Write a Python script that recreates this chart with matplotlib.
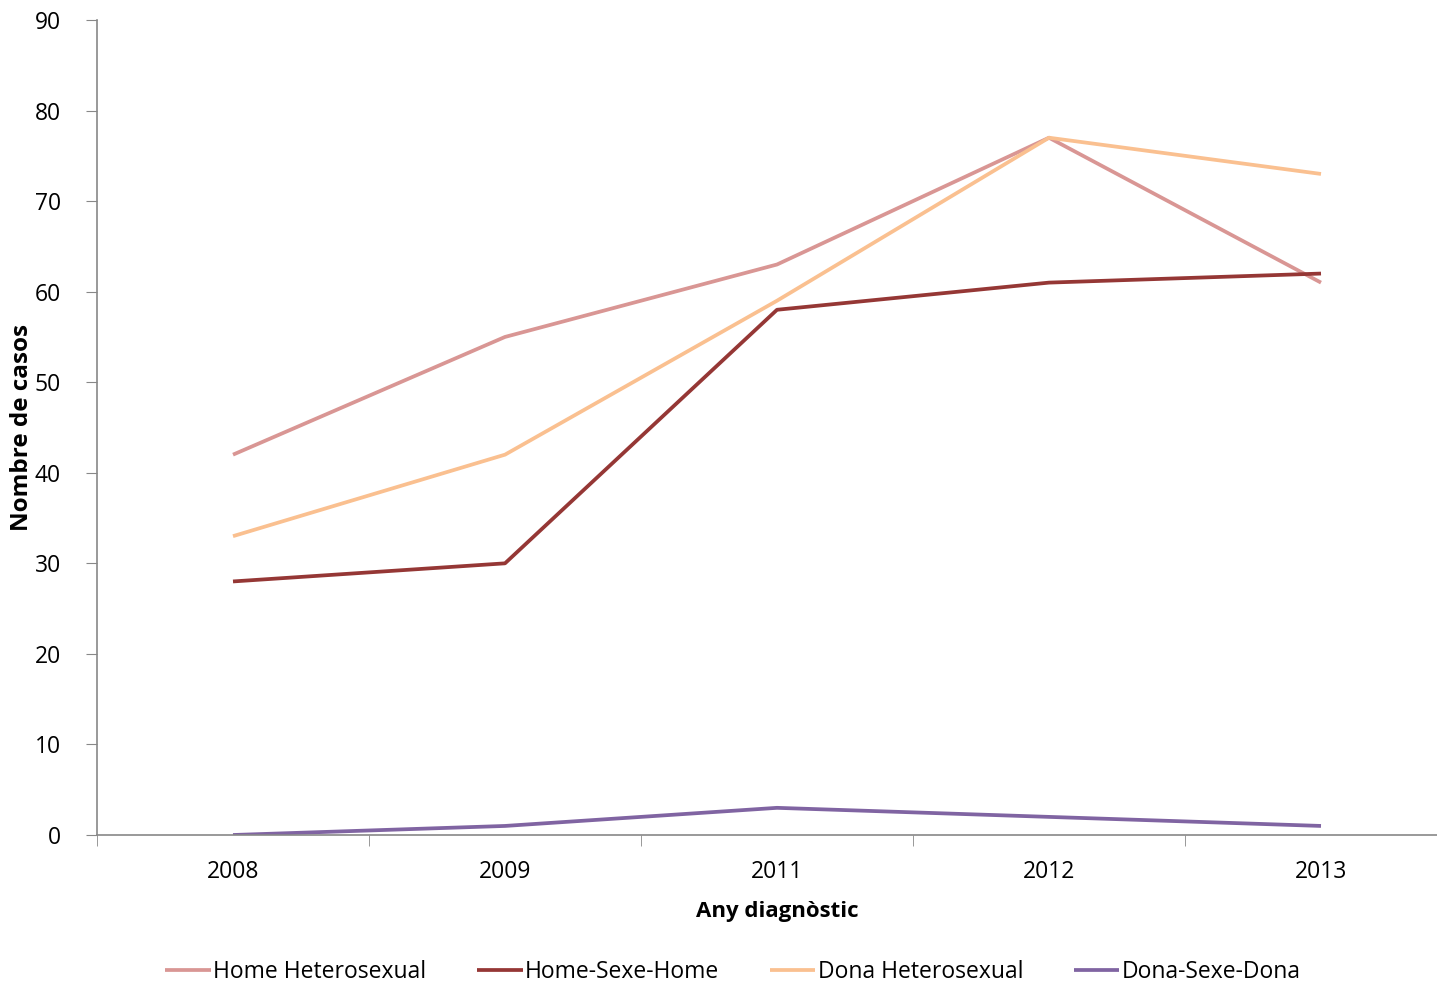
import numpy as np
import matplotlib.pyplot as plt

years = ['2008', '2009', '2011', '2012', '2013']
home_hetero = [42, 55, 63, 77, 61]
home_sexe_home = [28, 30, 58, 61, 62]
dona_hetero = [33, 42, 59, 77, 73]
dona_sexe_dona = [0, 1, 3, 2, 1]

series = [
    ('Home Heterosexual', home_hetero, '#D99694'),
    ('Home-Sexe-Home', home_sexe_home, '#953735'),
    ('Dona Heterosexual', dona_hetero, '#FAC090'),
    ('Dona-Sexe-Dona', dona_sexe_dona, '#8064A2'),
]

plt.rcParams['font.family'] = ['Open Sans', 'DejaVu Sans']

fig = plt.figure(figsize=(14.37, 9.84), dpi=100)
ax = fig.add_axes([97 / 1437, 1 - 835 / 984, (1457 - 97) / 1437, (835 - 20) / 984])

x = np.arange(len(years))
for name, vals, col in series:
    ax.plot(x, vals, color=col, linewidth=2.7, label=name, solid_capstyle='butt')

ax.set_xlim(-0.5, len(years) - 0.5)
ax.set_ylim(0, 90)
ax.set_yticks(range(0, 91, 10))
ax.set_xticks(x)
ax.set_xticklabels(years)
ax.set_xticks(np.arange(-0.5, len(years)), minor=True)
ax.tick_params(axis='x', which='major', length=0, labelsize=16.5, pad=18)
ax.tick_params(axis='x', which='minor', length=8, color='#888888', direction='out')
ax.tick_params(axis='y', length=8, color='#888888', labelsize=16.5, pad=18)

for s in ['top', 'right']:
    ax.spines[s].set_visible(False)
for s in ['left', 'bottom']:
    ax.spines[s].set_color('#888888')
    ax.spines[s].set_linewidth(1.2)

ax.set_xlabel('Any diagnòstic', fontsize=16, fontweight='bold', labelpad=12)
ax.set_ylabel('Nombre de casos', fontsize=17.5, fontweight='bold')
ax.yaxis.set_label_coords(-0.046, 0.5)

fig.legend(loc='center', bbox_to_anchor=(0.51, 0.012), ncol=4, frameon=False,
           fontsize=16.5, handlelength=2.0, handletextpad=0.1, columnspacing=2.2)

fig.savefig('out.png', dpi=100)
